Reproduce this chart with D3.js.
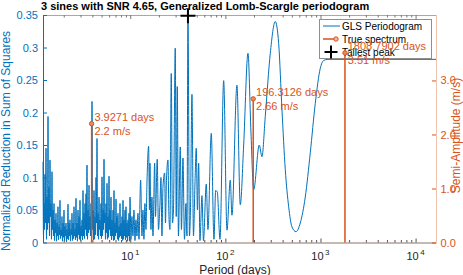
<!DOCTYPE html>
<html><head><meta charset="utf-8">
<script src="https://cdn.jsdelivr.net/npm/d3@7"></script>
<style>
html,body{margin:0;padding:0;background:#fff;}
svg{display:block;font-family:"Liberation Sans",Arial,Helvetica,sans-serif;}
</style></head>
<body><svg id="c" width="463" height="275"></svg>
<script>
// ---- data ----
const periodDays = [
 1.210,1.225,1.240,1.255,1.270,1.285,1.301,1.317,1.333,1.349,
 1.366,1.382,1.399,1.416,1.433,1.451,1.468,1.486,1.504,1.523,
 1.541,1.560,1.579,1.598,1.618,1.637,1.657,1.677,1.698,1.718,
 1.739,1.760,1.782,1.804,1.826,1.848,1.870,1.893,1.916,1.940,
 1.963,1.987,2.011,2.036,2.061,2.086,2.111,2.137,2.163,2.189,
 2.216,2.243,2.270,2.298,2.326,2.354,2.383,2.412,2.441,2.471,
 2.501,2.532,2.562,2.594,2.625,2.657,2.690,2.722,2.756,2.789,
 2.823,2.858,2.892,2.928,2.963,2.999,3.036,3.073,3.110,3.148,
 3.187,3.225,3.265,3.304,3.345,3.385,3.427,3.468,3.510,3.553,
 3.597,3.640,3.685,3.730,3.775,3.821,3.868,3.915,3.963,4.011,
 4.060,4.109,4.159,4.210,4.261,4.313,4.365,4.419,4.472,4.527,
 4.582,4.638,4.694,4.751,4.809,4.868,4.927,4.987,5.048,5.109,
 5.172,5.235,5.298,5.363,5.428,5.494,5.561,5.629,5.698,5.767,
 5.837,5.908,5.980,6.053,6.127,6.202,6.277,6.354,6.431,6.509,
 6.589,6.669,6.750,6.832,6.916,7.000,7.085,7.171,7.259,7.347,
 7.437,7.527,7.619,7.712,7.806,7.901,7.997,8.094,8.193,8.293,
 8.394,8.496,8.600,8.704,8.810,8.918,9.026,9.136,9.247,9.360,
 9.474,9.589,9.706,9.824,9.944,
 10.17,10.42,10.68,10.94,11.21,11.48,11.76,12.05,12.35,12.86,
 13.28,13.60,13.93,14.27,14.63,14.98,15.61,15.92,16.11,16.51,
 16.91,17.33,18.06,18.41,19.22,19.80,20.53,21.03,21.54,22.07,
 23.00,23.45,24.03,24.92,25.52,26.15,26.99,27.78,28.47,29.73,
 30.45,31.20,32.12,33.56,34.55,35.83,37.16,38.53,39.47,40.44,
 41.94,42.96,44.56,46.20,47.91,49.43,50.89,52.39,54.07,56.75,
 58.85,63.0,65.6,71.1,75.9,79.1,82.2,87.8,96.0,104.0,
 112.6,117.3,132.4,143.5,155.8,172.9,185.8,198.4,227.3,242.6,
 262.8,296.6,334.7,363.6,393.8,426.6,463.1,501.6,552.6,613.2,
 692.2,781.2,881.7,995.2,1080,1199,16390
];
const glsPower = [
 0.124,0.01,0.06,0.02,0.105,0.03,0.145,0.005,0.07,0.02,
 0.194,0.03,0.085,0.01,0.127,0.04,0.06,0.005,0.109,0.02,
 0.05,0.01,0.06,0.003,0.035,0.015,0.045,0.002,0.03,0.01,
 0.055,0.004,0.025,0.012,0.065,0.006,0.02,0.01,0.04,0.002,
 0.03,0.008,0.05,0.003,0.025,0.01,0.03,0.001,0.02,0.006,
 0.059,0.004,0.03,0.01,0.035,0.002,0.02,0.012,0.045,0.003,
 0.03,0.006,0.055,0.01,0.02,0.004,0.068,0.008,0.03,0.002,
 0.05,0.012,0.04,0.005,0.065,0.003,0.025,0.01,0.035,0.004,
 0.08,0.01,0.045,0.006,0.06,0.02,0.075,0.01,0.119,0.005,
 0.05,0.015,0.088,0.02,0.04,0.01,0.06,0.008,0.217,0.02,
 0.05,0.004,0.08,0.005,0.04,0.012,0.1,0.03,0.16,0.01,
 0.045,0.005,0.07,0.02,0.035,0.01,0.06,0.006,0.101,0.01,
 0.05,0.02,0.128,0.03,0.045,0.005,0.06,0.015,0.091,0.005,
 0.04,0.008,0.102,0.02,0.05,0.01,0.07,0.004,0.035,0.01,
 0.05,0.003,0.08,0.004,0.03,0.01,0.067,0.015,0.04,0.005,
 0.045,0.003,0.025,0.008,0.06,0.01,0.03,0.006,0.04,0.003,
 0.065,0.005,0.035,0.01,0.05,0.004,0.055,0.008,0.03,0.002,
 0.035,0.01,0.045,0.002,0.07,
 0.005,0.04,0.01,0.05,0.003,0.035,0.01,0.045,0.005,0.096,
 0.01,0.05,0.005,0.06,0.02,0.09,0.148,0.05,0.122,0.02,
 0.07,0.01,0.122,0.04,0.128,0.02,0.06,0.1,0.01,0.085,
 0.107,0.03,0.095,0.127,0.04,0.02,0.26,0.03,0.05,0.299,
 0.04,0.24,0.01,0.147,0.02,0.13,0.005,0.06,0.01,0.349,
 0.01,0.05,0.228,0.01,0.09,0.145,0.05,0.122,0.003,0.072,
 0.003,0.09,0.02,0.168,0.005,0.08,0.078,0.005,0.249,0.019,
 0.096,0.042,0.242,0.058,0.15,0.291,0.17,0.081,0.15,0.132,
 0.194,0.291,0.34,0.306,0.204,0.112,0.055,0.024,0.0166,0.03,
 0.07,0.138,0.214,0.268,0.28,0.2818,0.2818
];
const truePeriods = [3.9271, 196.3126, 1808.7902];
const trueAmps = [2.2, 2.66, 3.51];
const tallestPeriod = 40.44;
const tallestPower = 0.349;
const leftTicks = [0,0.05,0.1,0.15,0.2,0.25,0.3,0.35];
const rightTicks = [0,1,2,3];
const xMajor = [10,100,1000,10000];
const xMajorExp = ["1","2","3","4"];
const legendLabels = ["GLS Periodogram","True spectrum","Tallest peak"];
const titleText = "3 sines with SNR 4.65, Generalized Lomb-Scargle periodogram";

// ---- layout ----
const L=43, R=436, T=15, B=242.5;
const BLUE="#0072BD", ORANGE="#D95319";
const svg=d3.select("#c");
const x=d3.scaleLog().domain([1.21,16390]).range([L,R]);
const yL=d3.scaleLinear().domain([0,0.35]).range([B,T]);
const yR=d3.scaleLinear().domain([0,4.212]).range([B,T]);

const minor=[];
for(let e=0;e<=4;e++) for(let m=2;m<=9;m++){const v=m*Math.pow(10,e); if(v>=1.21&&v<=16390) minor.push(v);}

// periodogram
const n=Math.min(periodDays.length,glsPower.length);
const pts=d3.range(n).map(i=>[periodDays[i],glsPower[i]]);
svg.append("path").datum(pts)
 .attr("d",d3.line().x(d=>x(d[0])).y(d=>yL(d[1])).curve(d3.curveMonotoneX))
 .attr("fill","none").attr("stroke",BLUE).attr("stroke-width",1);

// axes
const font="Liberation Sans, Arial, sans-serif";
const gB=svg.append("g").attr("transform",`translate(0,${B})`);
gB.call(d3.axisBottom(x).tickValues(xMajor).tickSize(-4).tickSizeOuter(0).tickFormat(""));
gB.append("g").call(d3.axisBottom(x).tickValues(minor).tickSize(-2.5).tickSizeOuter(0).tickFormat(""))
  .select(".domain").remove();
gB.selectAll("line").attr("stroke","#555");
gB.select(".domain").attr("stroke","#b3a298").attr("stroke-width",1.5);

const gT=svg.append("g").attr("transform",`translate(0,${T})`);
gT.call(d3.axisTop(x).tickValues(xMajor).tickSize(-4).tickSizeOuter(0).tickFormat(""));
gT.append("g").call(d3.axisTop(x).tickValues(minor).tickSize(-2.5).tickSizeOuter(0).tickFormat(""))
  .select(".domain").remove();
gT.selectAll("line").attr("stroke","#777");
gT.select(".domain").attr("stroke","#a8a8a8");

const gL=svg.append("g").attr("transform",`translate(${L},0)`);
gL.call(d3.axisLeft(yL).tickValues(leftTicks).tickSize(-4).tickSizeOuter(0).tickPadding(5).tickFormat(d3.format("~g")));
gL.selectAll("line").attr("stroke",BLUE);
gL.select(".domain").attr("stroke",BLUE);
gL.selectAll("text").attr("fill",BLUE).attr("font-size","11px").attr("font-family",font);

const gR=svg.append("g").attr("transform",`translate(${R},0)`);
gR.call(d3.axisRight(yR).tickValues(rightTicks).tickSize(-4).tickSizeOuter(0).tickPadding(4.5));
gR.selectAll("line").attr("stroke",ORANGE);
gR.select(".domain").attr("stroke","#f0c4ae");
gR.selectAll("text").attr("fill",ORANGE).attr("font-size","11px").attr("font-family",font);

xMajor.forEach((v,i)=>{
  const t=svg.append("text").attr("x",x(v)).attr("y",260).attr("text-anchor","middle")
   .attr("font-size","11px").attr("fill","#262626");
  t.append("tspan").text("10");
  t.append("tspan").attr("dx","1.5").attr("dy","-5").attr("font-size","8px").text(xMajorExp[i]);
});

svg.append("text").attr("x",41).attr("y",9.5).attr("font-size","11px").attr("font-weight","bold")
  .attr("fill","#000").text(titleText);
svg.append("text").attr("x",235).attr("y",273.5).attr("text-anchor","middle").attr("font-size","12px")
  .attr("fill","#262626").text("Period (days)");
svg.append("text").attr("transform","translate(10,141) rotate(-90)").attr("text-anchor","middle")
  .attr("font-size","12px").attr("fill",BLUE).text("Normalized Reduction in Sum of Squares");
svg.append("text").attr("transform","translate(460,135.5) rotate(-90)").attr("text-anchor","middle")
  .attr("font-size","12px").attr("fill",ORANGE).text("Semi-Amplitude (m/s)");

// legend
const lg=svg.append("g");
lg.append("rect").attr("x",319.5).attr("y",19.5).attr("width",112).attr("height",39)
  .attr("fill","#fff").attr("stroke","#8f8f8f").attr("stroke-width",1);
lg.append("line").attr("x1",323).attr("x2",340).attr("y1",26).attr("y2",26).attr("stroke",BLUE);
lg.append("line").attr("x1",323).attr("x2",336).attr("y1",39).attr("y2",39).attr("stroke",ORANGE).attr("stroke-width",1.5);
lg.append("circle").attr("cx",336).attr("cy",39).attr("r",2.2).attr("fill","#f3b79c").attr("stroke",ORANGE);
lg.append("path").attr("d","M324.5,52H337.5M331,45.5V58.5").attr("stroke","#000").attr("stroke-width",2);
legendLabels.forEach((s,i)=>{
  lg.append("text").attr("x",342).attr("y",26+13*i).attr("dy","0.35em").attr("font-size","10px")
   .attr("fill","#000").text(s);
});

// stems
truePeriods.forEach((p,i)=>{
  const cx=x(p), cy=yR(trueAmps[i]);
  svg.append("line").attr("x1",cx).attr("x2",cx).attr("y1",yR(0)).attr("y2",cy)
    .attr("stroke",ORANGE).attr("stroke-width",1.5);
  svg.append("circle").attr("cx",cx).attr("cy",cy).attr("r",2.2).attr("fill","#e98a62").attr("stroke",ORANGE);
  svg.append("text").attr("x",cx+2.8).attr("y",cy-3).attr("font-size","11px").attr("fill",ORANGE)
    .text(d3.format(".4f")(p)+" days");
  svg.append("text").attr("x",cx+2.8).attr("y",cy+11).attr("font-size","11px").attr("fill",ORANGE)
    .text(d3.format("~g")(trueAmps[i])+" m/s");
});

// tallest peak
const tx=x(tallestPeriod), ty=yL(tallestPower);
svg.append("path").attr("d",`M${tx-7.5},${ty}H${tx+7.5}M${tx},${ty-7.5}V${ty+7.5}`)
  .attr("stroke","#000").attr("stroke-width",2);
</script></body></html>
